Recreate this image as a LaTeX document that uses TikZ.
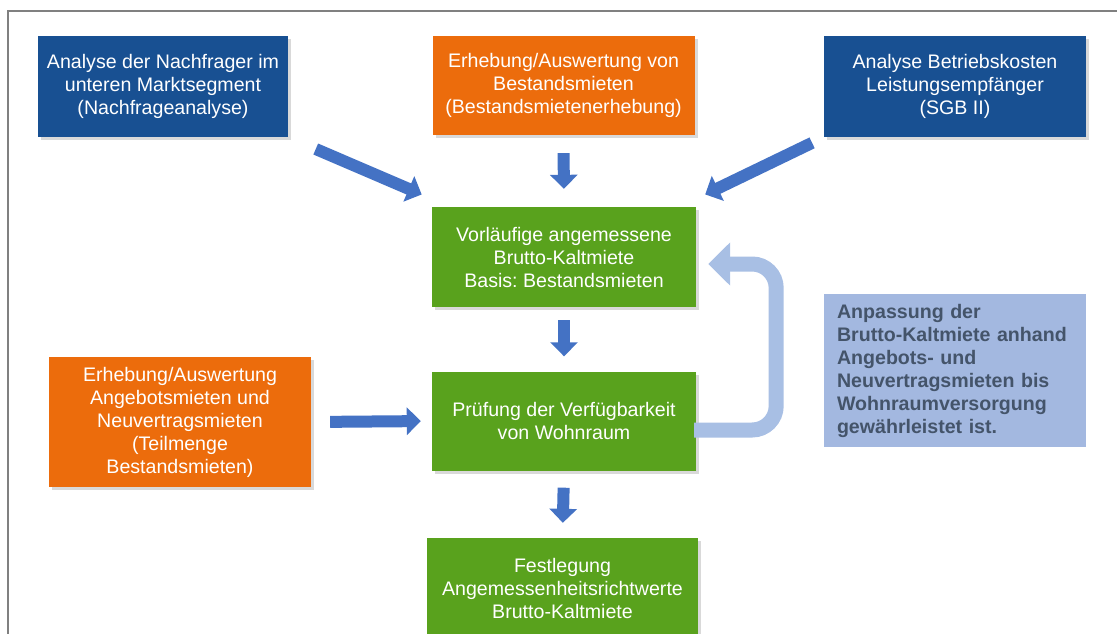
\documentclass[tikz,border=0pt]{standalone}
\usepackage{fontspec}
\setmainfont{Liberation Sans}
\usetikzlibrary{arrows.meta,shadows}
\definecolor{boxblue}{HTML}{185092}
\definecolor{boxorange}{HTML}{EC6C0C}
\definecolor{boxgreen}{HTML}{59A21D}
\definecolor{arrowblue}{HTML}{4472C4}
\definecolor{noteblue}{HTML}{A3B8E0}
\definecolor{notetext}{HTML}{44546A}
\definecolor{loopblue}{HTML}{A8BFE4}
\tikzset{
  stepbox/.style={minimum width=262, minimum height=100, inner sep=0pt,
    align=center, text=white, font=\frenchspacing\fontsize{19.6}{23}\selectfont,
    drop shadow={opacity=0.3, shadow xshift=3pt, shadow yshift=-3pt}},
  flowarrow/.style={draw=arrowblue, line width=12,
    -{Triangle[width=27, length=14]}, shorten <=16, shorten >=16},
}
\begin{document}
\begin{tikzpicture}[x=1pt,y=-1pt]
      \useasboundingbox (0,0) rectangle (1117,634);
      \clip (0,0) rectangle (1117,634);
      \draw[gray, line width=2] (8,11) rectangle (1140,660);
      % top row
      \node[stepbox, fill=boxblue, minimum width=250, minimum height=101] (nachfrage) at (163,86.5)
        {Analyse der Nachfrager im\\unteren Marktsegment\\(Nachfrageanalyse)};
      \node[stepbox, fill=boxorange, minimum height=99] (bestand) at (563.5,85.5)
        {Erhebung/Auswertung von\\Bestandsmieten\\(Bestandsmietenerhebung)};
      \node[stepbox, fill=boxblue, minimum height=101] (betrieb) at (955,86.5)
        {Analyse Betriebskosten\\Leistungsempfänger\\(SGB II)};
      % middle column
      \node[stepbox, fill=boxgreen, minimum width=264] (vorl) at (564,257)
        {Vorläufige angemessene\\Brutto-Kaltmiete\\Basis: Bestandsmieten};
      \node[stepbox, fill=boxgreen, minimum width=264, minimum height=99] (pruef) at (564,421)
        {Prüfung der Verfügbarkeit\\von Wohnraum};
      \node[stepbox, fill=boxgreen, minimum width=271] (fest) at (562.5,588)
        {Festlegung\\Angemessenheitsrichtwerte\\Brutto-Kaltmiete};
      \node[stepbox, fill=boxorange, minimum height=130] (angebot) at (180,422)
        {Erhebung/Auswertung\\Angebotsmieten und\\Neuvertragsmieten\\(Teilmenge\\Bestandsmieten)};
      \node[fill=noteblue, minimum width=262, minimum height=153, inner sep=0pt,
        text width=236, align=left, text=notetext, font=\bfseries\fontsize{19.6}{23}\selectfont]
        (anpassung) at (955,370.5)
        {Anpassung der\\Brutto-Kaltmiete anhand\\Angebots- und\\Neuvertragsmieten bis\\Wohnraumversorgung\\gewährleistet ist.};
      % arrows
      \draw[flowarrow, shorten <=30, shorten >=11] (nachfrage.south east) -- ([yshift=8pt]vorl.north west);
      \draw[flowarrow, shorten <=13, shorten >=10] (betrieb.south west) -- ([yshift=8pt]vorl.north east);
      \draw[flowarrow, shorten <=18, shorten >=18] (bestand.south) -- (vorl.north);
      \draw[flowarrow, shorten <=13, shorten >=15] (vorl.south) -- (pruef.north);
      \draw[flowarrow, shorten <=17, shorten >=15] (pruef.south) -- (fest.north);
      \draw[flowarrow, shorten <=19, shorten >=11] (angebot.east) -- (pruef.west);
      % feedback loop
      \draw[loopblue, line width=15, rounded corners=24, -{Triangle[width=42, length=22]},
        shorten <=-2, shorten >=12]
        ([yshift=-9pt]pruef.east) -- ++(80,0) |- ([yshift=-7pt]vorl.east);
\end{tikzpicture}
\end{document}
